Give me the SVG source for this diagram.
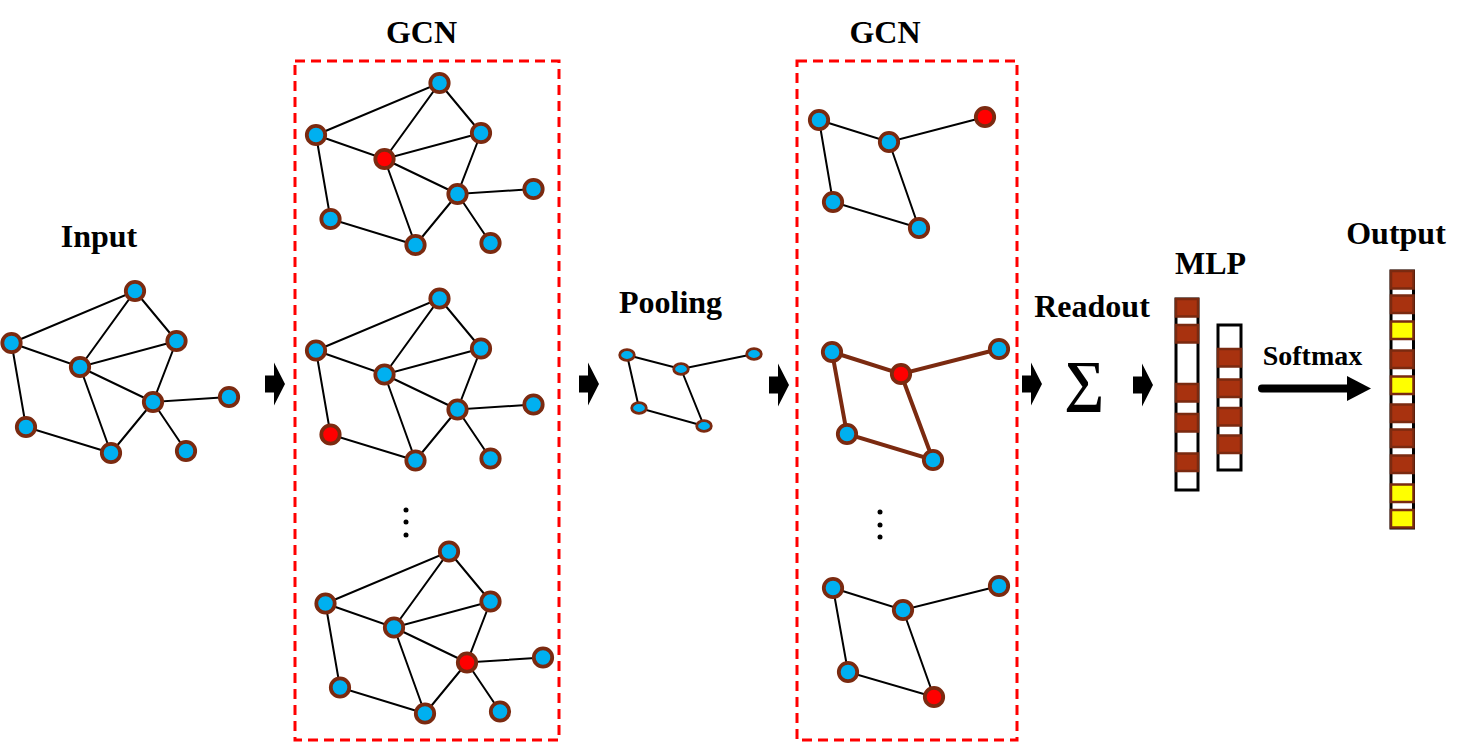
<svg xmlns="http://www.w3.org/2000/svg" width="1471" height="743" viewBox="0 0 1471 743">
<defs>
<style>
.lbl{font-family:"Liberation Serif","Times New Roman",serif;font-weight:bold;font-size:32px;fill:#000;text-anchor:middle}
.sm{font-size:28px}
.e{stroke:#000;stroke-width:2;fill:none}
.eb{stroke:#7B2A10;stroke-width:4;fill:none}
.n{fill:#00B0F0;stroke:#7B2A10;stroke-width:3.8}
.r{fill:#FF0000;stroke:#7B2A10;stroke-width:3.8}
.pn{fill:#00B0F0;stroke:#7B2A10;stroke-width:2.8}
.box{fill:none;stroke:#FF0000;stroke-width:3;stroke-dasharray:10 6}
.vec{fill:#fff;stroke:#000;stroke-width:3}
.c{fill:#A8320F;stroke:#7A2A10;stroke-width:2.5}
.y{fill:#FFFF00;stroke:#7A2A10;stroke-width:2.5}
.dot{fill:#000}
</style>
<path id="blk" d="M0,-8.5 H9 V-21.5 L20,0 L9,21.5 V8.5 H0 Z" fill="#000"/>
</defs>
<rect width="1471" height="743" fill="#fff"/>

<!-- boxes -->
<g id="gcn1-box"><rect class="box" x="295" y="61" width="264" height="679"/></g>
<g id="gcn2-box"><rect class="box" x="797" y="61" width="220" height="679"/></g>

<!-- labels -->
<g id="labels">
<text class="lbl" x="421.5" y="43">GCN</text>
<text class="lbl" x="885" y="43">GCN</text>
<text class="lbl" x="99" y="247">Input</text>
<text class="lbl" x="670.5" y="313">Pooling</text>
<text class="lbl" x="1092" y="317">Readout</text>
<text class="lbl" x="1210.5" y="274">MLP</text>
<text class="lbl" x="1396" y="244">Output</text>
<text class="lbl sm" x="1312.5" y="365">Softmax</text>
<text x="1084.5" y="400" font-family="Liberation Serif,'Times New Roman',serif" font-weight="bold" font-size="56" text-anchor="middle">∑</text>
</g>

<!-- connectors -->
<g id="connectors">
<!-- input graph -->
<path class="e" d="M11.5,343 L135,291 L80,367 M135,291 L176.5,341 M11.5,343 L80,367 L176.5,341 M11.5,343 L26,427 L111,453 M80,367 L153,402 M80,367 L111,453 M176.5,341 L153,402 L229,397 M153,402 L111,453 M153,402 L186,451"/>
<!-- gcn1 a -->
<path class="e" d="M316,135 L439.5,83 L384.5,159 M439.5,83 L481,133 M316,135 L384.5,159 L481,133 M316,135 L330.5,219 L415.5,245 M384.5,159 L457.5,194 M384.5,159 L415.5,245 M481,133 L457.5,194 L533.5,189 M457.5,194 L415.5,245 M457.5,194 L490.5,243"/>
<!-- gcn1 b -->
<path class="e" d="M316,350.5 L439.5,298.5 L384.5,374.5 M439.5,298.5 L481,348.5 M316,350.5 L384.5,374.5 L481,348.5 M316,350.5 L330.5,434.5 L415.5,460.5 M384.5,374.5 L457.5,409.5 M384.5,374.5 L415.5,460.5 M481,348.5 L457.5,409.5 L533.5,404.5 M457.5,409.5 L415.5,460.5 M457.5,409.5 L490.5,458.5"/>
<!-- gcn1 c -->
<path class="e" d="M325.5,603.5 L449,551.5 L394,627.5 M449,551.5 L490.5,601.5 M325.5,603.5 L394,627.5 L490.5,601.5 M325.5,603.5 L340,687.5 L425,713.5 M394,627.5 L467,662.5 M394,627.5 L425,713.5 M490.5,601.5 L467,662.5 L543,657.5 M467,662.5 L425,713.5 M467,662.5 L500,711.5"/>
<!-- pooling -->
<path class="e" d="M627,355 L681,369 L754,354 M627,355 L639,408 L704,426 L681,369"/>
<!-- gcn2 a -->
<path class="e" d="M819,120 L889,142 L985,117 M819,120 L833,202 L919,228 L889,142"/>
<!-- gcn2 b -->
<path class="eb" d="M832,352 L901,374 L999,349 M832,352 L847,434 L933,460 L901,374"/>
<!-- gcn2 c -->
<path class="e" d="M833,588 L903,610 L999,586 M833,588 L848,672 L934,697 L903,610"/>
<!-- block arrows -->
<use href="#blk" x="265" y="384"/>
<use href="#blk" x="579" y="384"/>
<use href="#blk" x="769" y="385"/>
<use href="#blk" x="1022" y="384"/>
<use href="#blk" x="1133" y="385"/>
<!-- softmax arrow -->
<line x1="1262" y1="388.5" x2="1350" y2="388.5" stroke="#000" stroke-width="8" stroke-linecap="round"/>
<path d="M1347,376 L1371,388.5 L1347,401 Z" fill="#000"/>
</g>

<!-- input nodes -->
<g id="input-graph">
<circle class="n" cx="135" cy="291" r="9.2"/>
<circle class="n" cx="11.5" cy="343" r="9.2"/>
<circle class="n" cx="176.5" cy="341" r="9.2"/>
<circle class="n" cx="80" cy="367" r="9.2"/>
<circle class="n" cx="153" cy="402" r="9.2"/>
<circle class="n" cx="229" cy="397" r="9.2"/>
<circle class="n" cx="26" cy="427" r="9.2"/>
<circle class="n" cx="111" cy="453" r="9.2"/>
<circle class="n" cx="186" cy="451" r="9.2"/>
</g>

<g id="gcn1-graph-a">
<circle class="n" cx="439.5" cy="83" r="9.2"/>
<circle class="n" cx="316" cy="135" r="9.2"/>
<circle class="n" cx="481" cy="133" r="9.2"/>
<circle class="r" cx="384.5" cy="159" r="9.2"/>
<circle class="n" cx="457.5" cy="194" r="9.2"/>
<circle class="n" cx="533.5" cy="189" r="9.2"/>
<circle class="n" cx="330.5" cy="219" r="9.2"/>
<circle class="n" cx="415.5" cy="245" r="9.2"/>
<circle class="n" cx="490.5" cy="243" r="9.2"/>
</g>

<g id="gcn1-graph-b">
<circle class="n" cx="439.5" cy="298.5" r="9.2"/>
<circle class="n" cx="316" cy="350.5" r="9.2"/>
<circle class="n" cx="481" cy="348.5" r="9.2"/>
<circle class="n" cx="384.5" cy="374.5" r="9.2"/>
<circle class="n" cx="457.5" cy="409.5" r="9.2"/>
<circle class="n" cx="533.5" cy="404.5" r="9.2"/>
<circle class="r" cx="330.5" cy="434.5" r="9.2"/>
<circle class="n" cx="415.5" cy="460.5" r="9.2"/>
<circle class="n" cx="490.5" cy="458.5" r="9.2"/>
</g>

<g id="gcn1-dots">
<circle class="dot" cx="406" cy="510" r="2.5"/>
<circle class="dot" cx="406" cy="522" r="2.5"/>
<circle class="dot" cx="406" cy="535" r="2.5"/>
</g>

<g id="gcn1-graph-c">
<circle class="n" cx="449" cy="551.5" r="9.2"/>
<circle class="n" cx="325.5" cy="603.5" r="9.2"/>
<circle class="n" cx="490.5" cy="601.5" r="9.2"/>
<circle class="n" cx="394" cy="627.5" r="9.2"/>
<circle class="r" cx="467" cy="662.5" r="9.2"/>
<circle class="n" cx="543" cy="657.5" r="9.2"/>
<circle class="n" cx="340" cy="687.5" r="9.2"/>
<circle class="n" cx="425" cy="713.5" r="9.2"/>
<circle class="n" cx="500" cy="711.5" r="9.2"/>
</g>

<g id="pooling-graph">
<ellipse class="pn" cx="627" cy="355" rx="7.3" ry="5.3"/>
<ellipse class="pn" cx="681" cy="369" rx="7.3" ry="5.3"/>
<ellipse class="pn" cx="754" cy="354" rx="7.3" ry="5.3"/>
<ellipse class="pn" cx="639" cy="408" rx="7.3" ry="5.3"/>
<ellipse class="pn" cx="704" cy="426" rx="7.3" ry="5.3"/>
</g>

<g id="gcn2-graph-a">
<circle class="n" cx="819" cy="120" r="9.2"/>
<circle class="n" cx="889" cy="142" r="9.2"/>
<circle class="r" cx="985" cy="117" r="9.2"/>
<circle class="n" cx="833" cy="202" r="9.2"/>
<circle class="n" cx="919" cy="228" r="9.2"/>
</g>

<g id="gcn2-graph-b">
<circle class="n" cx="832" cy="352" r="9.2"/>
<circle class="r" cx="901" cy="374" r="9.2"/>
<circle class="n" cx="999" cy="349" r="9.2"/>
<circle class="n" cx="847" cy="434" r="9.2"/>
<circle class="n" cx="933" cy="460" r="9.2"/>
</g>

<g id="gcn2-dots">
<circle class="dot" cx="880" cy="512" r="2.5"/>
<circle class="dot" cx="880" cy="525" r="2.5"/>
<circle class="dot" cx="880" cy="537" r="2.5"/>
</g>

<g id="gcn2-graph-c">
<circle class="n" cx="833" cy="588" r="9.2"/>
<circle class="n" cx="903" cy="610" r="9.2"/>
<circle class="n" cx="999" cy="586" r="9.2"/>
<circle class="n" cx="848" cy="672" r="9.2"/>
<circle class="r" cx="934" cy="697" r="9.2"/>
</g>

<g id="mlp-vector-1">
<rect class="vec" x="1176" y="299" width="22" height="191"/>
<rect class="c" x="1176" y="299" width="22" height="17.5"/>
<rect class="c" x="1176" y="325" width="22" height="17.5"/>
<rect class="c" x="1176" y="384" width="22" height="17.5"/>
<rect class="c" x="1176" y="414" width="22" height="17.5"/>
<rect class="c" x="1176" y="453.5" width="22" height="17.5"/>
</g>

<g id="mlp-vector-2">
<rect class="vec" x="1218" y="325" width="23" height="145"/>
<rect class="c" x="1218" y="349" width="23" height="17.5"/>
<rect class="c" x="1218" y="379.5" width="23" height="17.5"/>
<rect class="c" x="1218" y="408" width="23" height="17.5"/>
<rect class="c" x="1218" y="435.5" width="23" height="17.5"/>
</g>

<g id="output-vector">
<rect class="vec" x="1391" y="271" width="22.5" height="257"/>
<rect class="c" x="1391" y="271" width="22.5" height="17.5"/>
<rect class="c" x="1391" y="295.5" width="22.5" height="17.5"/>
<rect class="y" x="1391" y="321.5" width="22.5" height="17.5"/>
<rect class="c" x="1391" y="350.5" width="22.5" height="17.5"/>
<rect class="y" x="1391" y="376.5" width="22.5" height="17.5"/>
<rect class="c" x="1391" y="404.5" width="22.5" height="17.5"/>
<rect class="c" x="1391" y="429.5" width="22.5" height="17.5"/>
<rect class="c" x="1391" y="455.5" width="22.5" height="17.5"/>
<rect class="y" x="1391" y="484.5" width="22.5" height="17.5"/>
<rect class="y" x="1391" y="510" width="22.5" height="17.5"/>
</g>
</svg>
